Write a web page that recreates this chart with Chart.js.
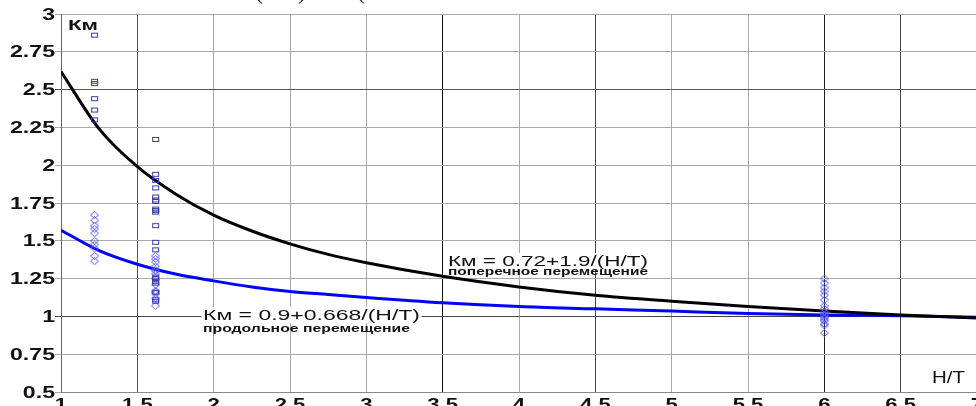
<!DOCTYPE html>
<html>
<head>
<meta charset="utf-8">
<script src="https://cdn.jsdelivr.net/npm/chart.js@4"></script>
<style>
  html, body { margin:0; padding:0; background:#fff; overflow:hidden; }
  #wrap { position:relative; width:976px; height:406px; overflow:hidden; }
  #chart { position:absolute; left:0; top:0; }
</style>
</head>
<body>
<div id="wrap"><canvas id="chart" width="990" height="422"></canvas></div>
<script>
// Км vs Н/Т — two fitted curves plus measured points

// curves
const curveX = [1, 1.25, 1.5, 1.75, 2, 2.25, 2.5, 2.75, 3, 3.5, 4, 4.5, 5, 5.5, 6, 6.5, 7];
const transverseKm = [2.62, 2.24, 1.99, 1.81, 1.67, 1.565, 1.48, 1.41, 1.355, 1.265, 1.195, 1.14, 1.10, 1.065, 1.035, 1.01, 0.99];
const longitudinalKm = [1.57, 1.435, 1.345, 1.28, 1.235, 1.195, 1.165, 1.145, 1.125, 1.09, 1.065, 1.05, 1.035, 1.02, 1.01, 1.005, 0.995];

// measured points: squares (поперечное) and diamonds (продольное)
const squareX = [1.22, 1.22, 1.22, 1.22, 1.22, 1.22,
  1.62, 1.62, 1.62, 1.62, 1.62, 1.62, 1.62, 1.62, 1.62, 1.62,
  1.62, 1.62, 1.62, 1.62, 1.62, 1.62, 1.62, 1.62, 1.62, 1.62];
const squareKm = [2.86, 2.555, 2.54, 2.44, 2.365, 2.30,
  2.17, 1.94, 1.90, 1.85, 1.79, 1.77, 1.76, 1.71, 1.70, 1.69,
  1.60, 1.49, 1.44, 1.26, 1.25, 1.23, 1.22, 1.16, 1.11, 1.10];
const diamondX = [1.22, 1.22, 1.22, 1.22, 1.22, 1.22, 1.22, 1.22, 1.22, 1.22,
  1.62, 1.62, 1.62, 1.62, 1.62, 1.62, 1.62, 1.62, 1.62, 1.62, 1.62, 1.62, 1.62, 1.62,
  6, 6, 6, 6, 6, 6, 6, 6, 6, 6, 6, 6, 6, 6, 6, 6, 6];
const diamondKm = [1.67, 1.635, 1.60, 1.58, 1.55, 1.50, 1.475, 1.45, 1.40, 1.365,
  1.40, 1.38, 1.36, 1.33, 1.31, 1.30, 1.28, 1.25, 1.21, 1.17, 1.16, 1.15, 1.12, 1.07,
  1.25, 1.22, 1.19, 1.165, 1.14, 1.11, 1.07, 1.05, 1.03, 1.01, 1.00, 0.99, 0.98, 0.97, 0.95, 0.94, 0.89];

const xTicks = [1, 1.5, 2, 2.5, 3, 3.5, 4, 4.5, 5, 5.5, 6, 6.5, 7];
const yTicks = [0.5, 0.75, 1, 1.25, 1.5, 1.75, 2, 2.25, 2.5, 2.75, 3];

function pairs(xs, ys){ return xs.map((x,i)=>({x, y: ys[i]})); }

// small hollow marker images
function marker(w, h, draw){
  const c = document.createElement("canvas");
  c.width = w; c.height = h;
  draw(c.getContext("2d"));
  return c;
}
const squareImg = marker(9, 7, g=>{ g.strokeStyle="#3a3aa8"; g.lineWidth=1; g.strokeRect(1.5,1.5,6,4); });
const diamondImg = marker(9, 8, g=>{
  g.strokeStyle="#5a5aff"; g.lineWidth=1;
  g.beginPath(); g.moveTo(4.5,0.5); g.lineTo(8.5,4); g.lineTo(4.5,7.5); g.lineTo(0.5,4); g.closePath(); g.stroke();
});

const FONT = '"Liberation Sans", Arial, sans-serif';

// draw text squeezed/stretched horizontally
function wideText(ctx, txt, x, y, font, opt){
  opt = opt || {};
  ctx.save();
  ctx.font = font;
  ctx.textBaseline = opt.baseline || "alphabetic";
  ctx.textAlign = "left";
  const w = ctx.measureText(txt).width;
  const sx = opt.width ? opt.width / w : (opt.sx || 1);
  let off = 0;
  if (opt.align === "center") off = -w/2;
  if (opt.align === "right") off = -w;
  ctx.translate(x, y);
  ctx.scale(sx, 1);
  if (opt.bg){
    ctx.fillStyle = opt.bg;
    ctx.fillRect(off - 1, -13, w + 2, 16);
  }
  ctx.fillStyle = opt.color || "#111";
  ctx.fillText(txt, off, 0);
  ctx.restore();
}

const labelsPlugin = {
  id: "labels",
  afterDraw(chart){
    const ctx = chart.ctx;
    const xs = chart.scales.x, ys = chart.scales.y;
    // tick labels through the scales
    xs.ticks.forEach(t=>{
      wideText(ctx, String(t.value), xs.getPixelForValue(t.value), 410, "bold 17px " + FONT, {align:"center", sx:1.3});
    });
    ys.ticks.forEach(t=>{
      wideText(ctx, String(t.value), 55, ys.getPixelForValue(t.value) + 1, "bold 17px " + FONT, {align:"right", sx:1.36, baseline:"middle"});
    });
    // axis names
    wideText(ctx, "Км", 68, 30, "bold 15px " + FONT, {width:30});
    wideText(ctx, "Н/Т", 932, 383, "16px " + FONT, {width:33});
    // curve captions
    wideText(ctx, "Км = 0.72+1.9/(Н/Т)", 448, 266, "15px " + FONT, {width:200, bg:"#fff"});
    wideText(ctx, "поперечное перемещение", 448, 275, "bold 10px " + FONT, {width:200});
    wideText(ctx, "Км = 0.9+0.668/(Н/Т)", 203, 320, "15px " + FONT, {width:217, bg:"#fff"});
    wideText(ctx, "продольное перемещение", 203, 332, "bold 10px " + FONT, {width:207});
    // bits of the caption above, cut off by the frame
    ctx.save();
    ctx.font = "24px 'Liberation Serif', serif";
    ctx.fillStyle = "#222";
    ctx.textBaseline = "alphabetic";
    ctx.fillText("(", 255, -1);
    ctx.fillText(")", 298, -1);
    ctx.fillText("(", 357, -1);
    ctx.restore();
  }
};

const darkX = {1.5:"#555", 3.5:"#111", 4.5:"#444", 6:"#222", 6.5:"#444"};
const darkY = {2.5:"#555", 1:"#444"};

new Chart(document.getElementById("chart"), {
  type: "scatter",
  data: {
    datasets: [
      { label:"squares", data: pairs(squareX, squareKm), pointStyle: squareImg, order: 0 },
      { label:"diamonds", data: pairs(diamondX, diamondKm), pointStyle: diamondImg, order: 0 },
      { label:"transverse", data: pairs(curveX, transverseKm), showLine:true, borderColor:"#000", borderWidth:3,
        pointRadius:0, cubicInterpolationMode:"monotone", order: 1 },
      { label:"longitudinal", data: pairs(curveX, longitudinalKm), showLine:true, borderColor:"#0000ff", borderWidth:3,
        pointRadius:0, cubicInterpolationMode:"monotone", order: 1 }
    ]
  },
  options: {
    responsive: false,
    animation: false,
    devicePixelRatio: 1,
    layout: { padding: { top: 14, right: 13, left: 0, bottom: 0 } },
    plugins: { legend: { display:false }, tooltip: { enabled:false } },
    elements: { point: { hoverRadius: 0 } },
    scales: {
      x: {
        type: "linear", min: 1, max: 7,
        afterBuildTicks: s => { s.ticks = xTicks.map(v=>({value:v})); },
        afterFit: s => { s.height = 30; },
        ticks: { display:false },
        grid: { drawTicks:false, lineWidth:1, color: c => darkX[c.tick && c.tick.value] || "#a8a8a8" },
        border: { color:"#888", width:1 }
      },
      y: {
        type: "linear", min: 0.5, max: 3,
        afterBuildTicks: s => { s.ticks = yTicks.map(v=>({value:v})); },
        afterFit: s => { s.width = 61; },
        ticks: { display:false },
        grid: { drawTicks:true, tickLength:6, lineWidth:1, color: c => darkY[c.tick && c.tick.value] || "#a8a8a8" },
        border: { color:"#666", width:1 }
      }
    }
  },
  plugins: [labelsPlugin]
});
</script>
</body>
</html>
